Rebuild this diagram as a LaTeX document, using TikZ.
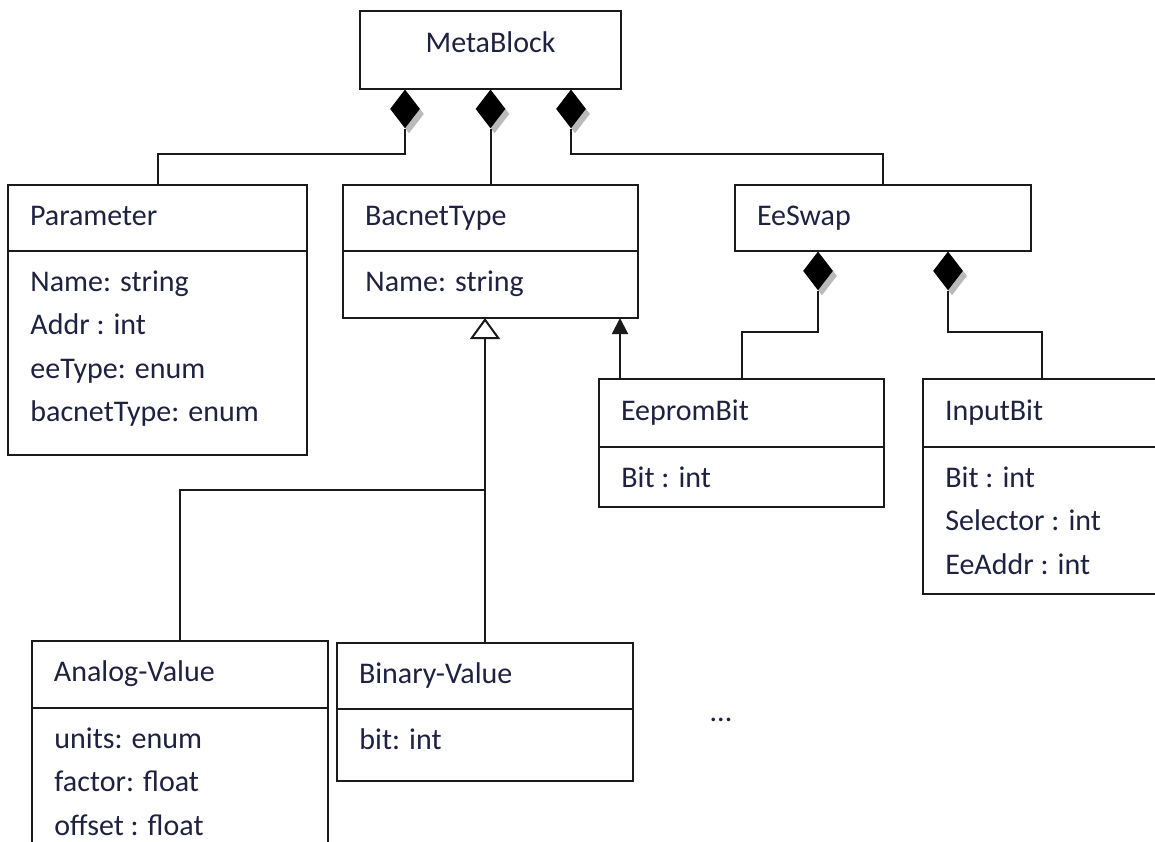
\documentclass[tikz,border=0pt]{standalone}
\usepackage{fontspec}
\setmainfont{Carlito}
\usetikzlibrary{arrows.meta,positioning,calc,shapes.geometric,shadows}
\definecolor{cText}{HTML}{1E2140}
\definecolor{cLine}{HTML}{1A1A1A}
\definecolor{cShade}{HTML}{8C8C8C}
\tikzset{
  cname/.style={draw=cLine, line width=1pt, text=cText, align=left, text width=#1,
    inner xsep=11pt, inner ysep=2pt, outer sep=0pt, minimum height=33pt,
    text height=10.5pt, text depth=3.5pt, anchor=north west},
  cattr/.style={draw=cLine, line width=1pt, minimum width=#1, inner sep=0pt,
    outer sep=0pt, anchor=north west},
  attrtext/.style={text=cText, align=left, anchor=north west, inner xsep=11pt,
    inner ysep=9.5pt, execute at begin node={\rule{0pt}{10pt}}},
  comp/.style={diamond, fill=black, inner sep=0pt, minimum width=15pt,
    minimum height=19.5pt, anchor=north,
    drop shadow={shadow xshift=2pt, shadow yshift=-2.5pt, fill=cShade, opacity=0.6}},
  link/.style={draw=cLine, line width=1pt},
  assoc/.style={link, -{Triangle[length=8pt, width=8pt]}},
  gen/.style={link, -{Triangle[open, length=10.5pt, width=15pt, fill=white]}},
}

\begin{document}
\begin{tikzpicture}[x=0.5pt, y=-0.5pt, font=\fontsize{15}{21.75}\selectfont]
    \useasboundingbox (0,0) rectangle (1155,841);
    \clip (0,0) rectangle (1155,841);
    % --- top block ---
    \node[cname=108.5pt, align=center, text depth=8.5pt, minimum height=39pt]
      (meta) at (360,11) {MetaBlock};
    \node[comp] (m-p) at ($(meta.south)+(-85.5,0)$) {};
    \node[comp] (m-b) at (meta.south) {};
    \node[comp] (m-e) at ($(meta.south)+(80.5,0)$) {};
    % --- classes ---
    \node[cname=127.5pt] (param) at (8,185) {Parameter};
    \node[cattr=149.5pt, minimum height=102pt] (param-a) at (param.south west) {};
    \node[attrtext] (param-t) at (param-a.north west)
      {Name: string\\Addr : int\\eeType: enum\\bacnetType: enum};
    \node[cname=125.5pt] (bacnet) at (343,185) {BacnetType};
    \node[cattr=147.5pt, minimum height=33.5pt] (bacnet-a) at (bacnet.south west) {};
    \node[attrtext] (bacnet-t) at (bacnet-a.north west) {Name: string};
    \node[cname=126pt] (eeswap) at (735,185) {EeSwap};
    \node[comp] (s-ee) at ($(eeswap.south)+(-65,0)$) {};
    \node[comp] (s-in) at ($(eeswap.south)+(65,0)$) {};
    \node[cname=120.5pt, minimum height=34pt] (eeprom) at (599,379) {EepromBit};
    \node[cattr=142.5pt, minimum height=30pt] (eeprom-a) at (eeprom.south west) {};
    \node[attrtext] (eeprom-t) at (eeprom-a.north west) {Bit : int};
    \node[cname=97pt, minimum height=34pt] (input) at (923,379) {InputBit};
    \node[cattr=119pt, minimum height=73.5pt] (input-a) at (input.south west) {};
    \node[attrtext] (input-t) at (input-a.north west)
      {Bit : int\\Selector : int\\EeAddr : int};
    \node[cname=126pt, minimum height=33.5pt] (analog) at (32,641) {Analog-Value};
    \node[cattr=148pt, minimum height=100pt] (analog-a) at (analog.south west) {};
    \node[attrtext] (analog-t) at (analog-a.north west)
      {units: enum\\factor: float\\offset : float};
    \node[cname=126pt] (binary) at (337,643) {Binary-Value};
    \node[cattr=148pt, minimum height=36pt] (binary-a) at (binary.south west) {};
    \node[attrtext] (binary-t) at (binary-a.north west) {bit: int};
    \node[text=cText, anchor=base] (more) at (721,721) {...};
    % --- composition links ---
    \draw[link] (m-p.south) -- ++(0,25) -| (param.north);
    \draw[link] (m-b.south) -- (bacnet.north);
    \draw[link] (m-e.south) -- ++(0,25) -| (eeswap.north);
    \draw[link] (s-ee.south) -- ++(0,41) -| (eeprom.north);
    \draw[link] (s-in.south) -- ++(0,41) -| (input.north);
    % --- association and inheritance ---
    \coordinate (ee-up) at ($(eeprom.north west)+(21,0)$);
    \draw[assoc] (ee-up) -- (ee-up |- bacnet-a.south);
    \coordinate (gen-j) at ($(binary.north)+(0,-153)$);
    \draw[gen] (binary.north) -- (binary.north |- bacnet-a.south);
    \draw[link] (analog.north) |- (gen-j);
\end{tikzpicture}
\end{document}
